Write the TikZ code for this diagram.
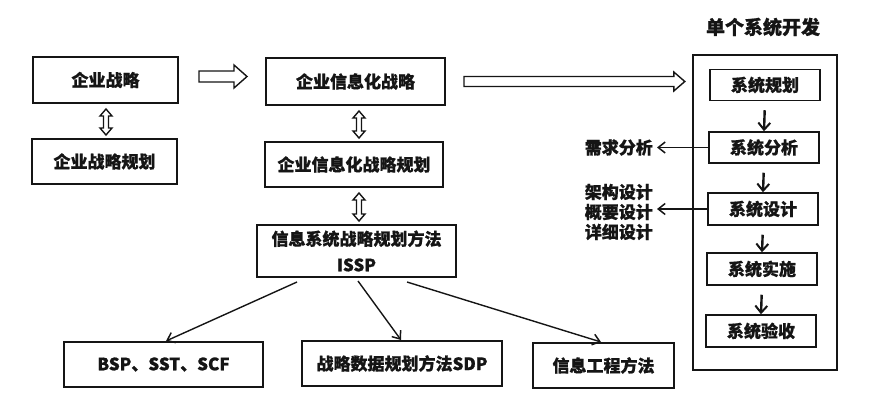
\documentclass[tikz,border=0pt]{standalone}
\usepackage{fontspec}
\setmainfont{Noto Sans CJK SC}[BoldFeatures={FakeBold=0.8}]
\usetikzlibrary{arrows.meta,calc}
\definecolor{ink}{HTML}{151515}
\newcommand\txtfont{\bfseries\fontsize{17}{20}\selectfont}
\tikzset{
  box/.style={draw=ink, text=ink, line width=2pt, inner sep=0pt, font=\txtfont, align=center},
  sbox/.style={draw=ink, text=ink, line width=1.5pt, inner sep=0pt, font=\txtfont,
    minimum width=110pt, minimum height=31pt},
  hollow/.style={draw=ink, fill=white, line width=1.4pt, line join=miter},
  thinarrow/.style={draw=ink, line width=1.4pt, -{Straight Barb[length=7pt,width=11pt,line width=1.5pt]}},
  downarrow/.style={draw=ink, line width=2.4pt, -{Straight Barb[length=7pt,width=12pt,line width=2pt]}},
  lbl/.style={text=ink, inner sep=0pt, font=\txtfont}
}
% hollow vertical double arrow between node #1 (above) and node #2 (below), x shift #3
\newcommand\vdbl[3]{%
  \path[hollow] let \p1=($(#1.south)+(#3,0)$), \p2=(#2.north) in
    (\x1,\y1-5pt) -- (\x1+6pt,\y1-12pt) -- (\x1+2.5pt,\y1-12pt) -- (\x1+2.5pt,\y2+10pt)
    -- (\x1+6pt,\y2+10pt) -- (\x1,\y2+3pt) -- (\x1-6pt,\y2+10pt) -- (\x1-2.5pt,\y2+10pt)
    -- (\x1-2.5pt,\y1-12pt) -- (\x1-6pt,\y1-12pt) -- cycle;}
\begin{document}
\begin{tikzpicture}[x=1pt,y=-1pt]
\useasboundingbox (0,0) rectangle (893,407);

% left column
\node[box, minimum width=145pt, minimum height=46pt] (s1) at (105.5,80) {企业战略};
\node[box, minimum width=145pt, minimum height=45pt] (s2) at (104.5,161.5) {企业战略规划};

% middle column
\node[box, minimum width=179pt, minimum height=47pt] (i1) at (355.5,81.5) {企业信息化战略};
\node[box, minimum width=178pt, minimum height=45pt] (i2) at (354,164.5) {企业信息化战略规划};
\node[box, minimum width=199pt, minimum height=52pt, font=\bfseries\fontsize{17}{26}\selectfont] (issp) at (356.5,251) {信息系统战略规划方法\\ISSP};

% bottom row
\node[box, minimum width=199pt, minimum height=45pt] (b1) at (163.5,364.5) {BSP、SST、SCF};
\node[box, minimum width=200pt, minimum height=45pt] (b2) at (402,363.5) {战略数据规划方法SDP};
\node[box, minimum width=141pt, minimum height=45pt] (b3) at (603.5,365.5) {信息工程方法};

% right column
\node[lbl, font=\bfseries\fontsize{19}{22}\selectfont] (title) at (763,27) {单个系统开发};
\node[draw=ink, line width=2.4pt, minimum width=144pt, minimum height=315pt, inner sep=0pt] (outer) at (765,212.5) {};
\node[sbox] (r1) at (765,85) {系统规划};
\node[sbox] (r2) at (764,147.5) {系统分析};
\node[sbox, minimum height=32pt] (r3) at (763,209) {系统设计};
\node[sbox, minimum height=32pt] (r4) at (762,269) {系统实施};
\node[sbox, minimum height=32pt] (r5) at (761,331) {系统验收};

\node[lbl, anchor=east] (req) at (653,147.5) {需求分析};
\node[lbl, anchor=east, align=left] (des) at (653,212) {架构设计\\概要设计\\详细设计};

% vertical hollow double arrows
\vdbl{s1}{s2}{0.5}
\vdbl{i1}{i2}{3.5}
\vdbl{i2}{issp}{5}

% horizontal hollow arrows
\path[hollow] let \p1=($(s1.east)+(20,-3.5)$), \p2=($(i1.west)+(-18,0)$) in
  (\x1,\y1+5.5pt) -- (\x2-13pt,\y1+5.5pt) -- (\x2-13pt,\y1+11.5pt) -- (\x2,\y1)
  -- (\x2-13pt,\y1-11.5pt) -- (\x2-13pt,\y1-5.5pt) -- (\x1,\y1-5.5pt) -- cycle;
\path[hollow] let \p1=($(i1.east)+(18,0)$), \p2=($(outer.west)+(-7,0)$) in
  (\x1,\y1+5pt) -- (\x2-11pt,\y1+5pt) -- (\x2-11pt,\y1+9.5pt) -- (\x2,\y1)
  -- (\x2-11pt,\y1-9.5pt) -- (\x2-11pt,\y1-5pt) -- (\x1,\y1-5pt) -- cycle;

% ISSP branches
\draw[thinarrow] ($(issp.south)+(-59.5,4)$) -- ($(b1.north)+(2.5,0)$);
\draw[thinarrow] ($(issp.south)+(1.5,3)$) -- ($(b2.north)+(-1,0)$);
\draw[thinarrow] ($(issp.south)+(50.5,4)$) -- ($(b3.north)+(-2.5,0)$);

% process arrows
\draw[downarrow, shorten <=9pt] (r1.south) -- (r2.north);
\draw[downarrow, shorten <=9pt] (r2.south) -- (r3.north);
\draw[downarrow, shorten <=9pt] (r3.south) -- (r4.north);
\draw[downarrow, shorten <=9pt] (r4.south) -- (r5.north);

% side arrows
\draw[thinarrow, shorten >=4pt] (r2.west) -- (r2.west -| req.east);
\draw[thinarrow, shorten >=4pt] (r3.west) -- (r3.west -| des.east);
\end{tikzpicture}
\end{document}
